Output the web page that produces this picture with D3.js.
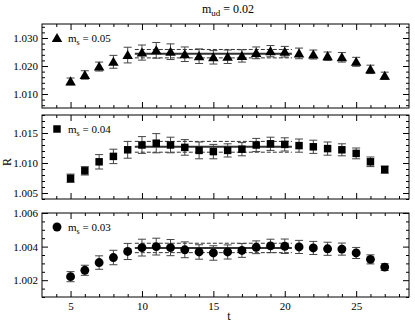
<!DOCTYPE html>
<html>
<head>
<meta charset="utf-8">
<script src="https://cdn.jsdelivr.net/npm/d3@7"></script>
<style>
  body { margin: 0; background: #fff; }
  svg { display: block; font-family: "Liberation Serif", "Times New Roman", serif; }
</style>
</head>
<body>
<svg id="chart" width="415" height="323"></svg>
<script>
// time slices
const tValues = [5, 6, 7, 8, 9, 10, 11, 12, 13, 14, 15, 16, 17, 18, 19, 20, 21, 22, 23, 24, 25, 26, 27];

// m_s = 0.05
const r05 = [1.0145, 1.0168, 1.0198, 1.0215, 1.0239, 1.0248, 1.0256, 1.0251, 1.0242, 1.0235, 1.0231, 1.0233,
             1.0236, 1.0247, 1.0253, 1.0251, 1.0245, 1.0241, 1.0235, 1.0231, 1.0215, 1.0188, 1.0165];
const err05 = [0.0012, 0.0015, 0.0016, 0.0023, 0.0028, 0.0027, 0.0028, 0.0028, 0.0026, 0.0026, 0.0024, 0.0024,
               0.0022, 0.0021, 0.0020, 0.0019, 0.0019, 0.0016, 0.0015, 0.0017, 0.0016, 0.0015, 0.0013];

// m_s = 0.04
const r04 = [1.00745, 1.0087, 1.0102, 1.0111, 1.0122, 1.0130, 1.0133, 1.0130, 1.0126, 1.0121, 1.0119, 1.0121,
             1.0123, 1.0130, 1.0132, 1.0131, 1.0129, 1.0127, 1.0124, 1.0122, 1.0116, 1.0102, 1.0089];
const err04 = [0.0007, 0.0007, 0.0012, 0.0012, 0.0014, 0.0014, 0.0016, 0.0013, 0.0013, 0.0014, 0.0012, 0.0011,
               0.0011, 0.0011, 0.0011, 0.0011, 0.0011, 0.0011, 0.0011, 0.0010, 0.0009, 0.0008, 0.0006];

// m_s = 0.03
const r03 = [1.00221, 1.00259, 1.00305, 1.00335, 1.00371, 1.00394, 1.00400, 1.00394, 1.00381, 1.00368, 1.00362, 1.00368,
             1.00377, 1.00396, 1.00404, 1.00402, 1.00398, 1.00392, 1.00387, 1.00385, 1.00362, 1.00324, 1.00278];
const err03 = [0.00030, 0.00030, 0.00040, 0.00043, 0.00048, 0.00050, 0.00050, 0.00048, 0.00047, 0.00043, 0.00043, 0.00042,
               0.00041, 0.00038, 0.00040, 0.00043, 0.00039, 0.00039, 0.00039, 0.00036, 0.00033, 0.00027, 0.00020];

// plateau fits (value, error) over the fit window
const fitRange = [9.5, 20.5];
const fitValues = [1.0244, 1.0127, 1.00392];
const fitErrors = [0.0015, 0.0009, 0.00028];

const seriesLabels = ["0.05", "0.04", "0.03"];
const seriesSymbols = ["triangle", "square", "circle"];
const yDomains = [[1.005, 1.035], [1.004, 1.018], [1.001, 1.006]];
const yMajorSteps = [0.01, 0.005, 0.002];
const yMinorSteps = [0.002, 0.001, 0.0005];
const xTicks = [5, 10, 15, 20, 25];

const series = [
  { r: r05, err: err05 },
  { r: r04, err: err04 },
  { r: r03, err: err03 }
];

// layout
const left = 42, right = 409;
const panelTops = [24, 115, 213];
const panelHeight = 84;

const svg = d3.select("#chart");
svg.append("rect").attr("width", 415).attr("height", 323).attr("fill", "#fff");

const x = d3.scaleLinear().domain([3, 28.7]).range([left, right]);

function stepTicks(domain, step) {
  const out = [];
  const start = Math.ceil(domain[0] / step - 1e-6);
  const end = Math.floor(domain[1] / step + 1e-6);
  for (let i = start; i <= end; i++) out.push(+(i * step).toFixed(6));
  return out;
}

const symbolTypes = { triangle: d3.symbolTriangle, square: d3.symbolSquare, circle: d3.symbolCircle };
const symbolSizes = { triangle: 48, square: 56, circle: 62 };

series.forEach((s, p) => {
  const top = panelTops[p], bottom = top + panelHeight;
  const y = d3.scaleLinear().domain(yDomains[p]).range([bottom, top]);
  const g = svg.append("g");

  const majorY = stepTicks(yDomains[p], yMajorSteps[p]);
  const minorY = stepTicks(yDomains[p], yMinorSteps[p]).filter(v => !majorY.some(m => Math.abs(m - v) < 1e-7));
  const minorX = d3.range(4, 29).filter(v => v % 5 !== 0);
  const fmt = d3.format(".3f");

  // axes: inward ticks on all four sides
  const addAxis = (axis, tx, ty) => {
    const a = g.append("g").attr("transform", `translate(${tx},${ty})`).call(axis);
    a.select(".domain").remove();
    a.selectAll("line").attr("stroke", "#000");
    a.selectAll("text").attr("font-family", "Liberation Serif").attr("font-size", 11).attr("fill", "#000");
    return a;
  };
  addAxis(d3.axisLeft(y).tickValues(majorY).tickSize(-6).tickPadding(4).tickFormat(fmt), left, 0);
  addAxis(d3.axisLeft(y).tickValues(minorY).tickSize(-3).tickFormat(""), left, 0);
  addAxis(d3.axisRight(y).tickValues(majorY).tickSize(-6).tickFormat(""), right, 0);
  addAxis(d3.axisRight(y).tickValues(minorY).tickSize(-3).tickFormat(""), right, 0);
  addAxis(d3.axisTop(x).tickValues(xTicks).tickSize(-6).tickFormat(""), 0, top);
  addAxis(d3.axisTop(x).tickValues(minorX).tickSize(-3).tickFormat(""), 0, top);
  addAxis(d3.axisBottom(x).tickValues(xTicks).tickSize(-6).tickPadding(5)
    .tickFormat(p === 2 ? d3.format("d") : ""), 0, bottom);
  addAxis(d3.axisBottom(x).tickValues(minorX).tickSize(-3).tickFormat(""), 0, bottom);

  // frame
  g.append("rect").attr("x", left).attr("y", top)
    .attr("width", right - left).attr("height", panelHeight)
    .attr("fill", "none").attr("stroke", "#000").attr("stroke-width", 1);

  // plateau fit band
  const fv = fitValues[p], fe = fitErrors[p];
  g.append("line")
    .attr("x1", x(fitRange[0])).attr("x2", x(fitRange[1]))
    .attr("y1", y(fv)).attr("y2", y(fv))
    .attr("stroke", "#333").attr("stroke-width", 2);
  [fv + fe, fv - fe].forEach(v => {
    g.append("line")
      .attr("x1", x(fitRange[0])).attr("x2", x(fitRange[1]))
      .attr("y1", y(v)).attr("y2", y(v))
      .attr("stroke", "#333").attr("stroke-width", 1).attr("stroke-dasharray", "4,2");
  });

  // error bars
  const pts = tValues.map((t, i) => ({ t, r: s.r[i], e: s.err[i] }));
  const eb = g.append("g").attr("stroke", "#444").attr("stroke-width", 1);
  eb.selectAll("line.v").data(pts).join("line")
    .attr("x1", d => x(d.t)).attr("x2", d => x(d.t))
    .attr("y1", d => y(d.r + d.e)).attr("y2", d => y(d.r - d.e));
  eb.selectAll("line.top").data(pts).join("line")
    .attr("x1", d => x(d.t) - 4).attr("x2", d => x(d.t) + 4)
    .attr("y1", d => y(d.r + d.e)).attr("y2", d => y(d.r + d.e));
  eb.selectAll("line.bot").data(pts).join("line")
    .attr("x1", d => x(d.t) - 4).attr("x2", d => x(d.t) + 4)
    .attr("y1", d => y(d.r - d.e)).attr("y2", d => y(d.r - d.e));

  // markers
  const sym = seriesSymbols[p];
  const shape = d3.symbol().type(symbolTypes[sym]).size(symbolSizes[sym]);
  g.append("g").selectAll("path").data(pts).join("path")
    .attr("d", shape)
    .attr("transform", d => `translate(${x(d.t)},${y(d.r) + (sym === "triangle" ? 1 : 0)})`)
    .attr("fill", "#000");

  // legend
  const ly = top + 14;
  g.append("path").attr("d", shape).attr("transform", `translate(57,${ly + (sym === "triangle" ? 1 : 0)})`).attr("fill", "#000");
  const lt = g.append("text").attr("x", 68).attr("y", ly + 4).attr("font-size", 11).attr("fill", "#000");
  lt.append("tspan").text("m");
  lt.append("tspan").attr("font-size", 8).attr("dy", 3).text("s");
  lt.append("tspan").attr("dy", -3).text(" = " + seriesLabels[p]);
});

// title
const title = svg.append("text").attr("x", 228).attr("y", 13)
  .attr("text-anchor", "middle").attr("font-size", 12).attr("fill", "#000");
title.append("tspan").text("m");
title.append("tspan").attr("font-size", 9).attr("dy", 3).text("ud");
title.append("tspan").attr("dy", -3).text(" = 0.02");

// axis titles
svg.append("text").attr("x", 229).attr("y", 320).attr("text-anchor", "middle")
  .attr("font-size", 12).attr("fill", "#000").text("t");
svg.append("text").attr("transform", "translate(11,162) rotate(-90)").attr("text-anchor", "middle")
  .attr("font-size", 12).attr("fill", "#000").text("R");
</script>
</body>
</html>
